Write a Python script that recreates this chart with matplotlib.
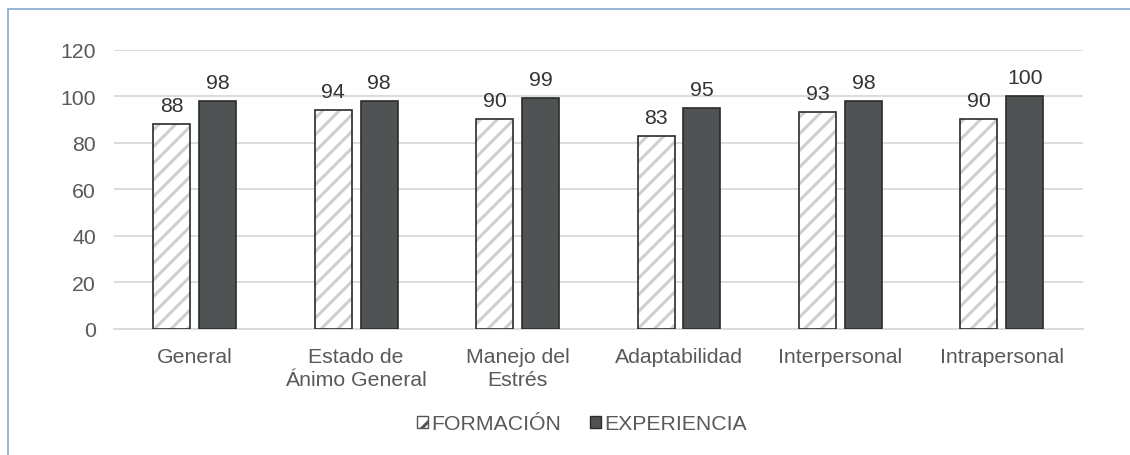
import matplotlib
matplotlib.use("Agg")
import matplotlib.pyplot as plt
from matplotlib.patches import Patch, Rectangle
import numpy as np

# scores per dimension
categorias = ["General", "Estado de\nÁnimo General", "Manejo del\nEstrés",
              "Adaptabilidad", "Interpersonal", "Intrapersonal"]
formacion = [88, 94, 90, 83, 93, 90]
experiencia = [98, 98, 99, 95, 98, 100]
y_ticks = [0, 20, 40, 60, 80, 100, 120]

TXT = "#595959"
DARK = "#4f5354"
EDGE = "#2b2b2b"
HATCH = "#cfcfcf"
FS = 15.3

plt.rcParams["font.family"] = ["Liberation Sans", "DejaVu Sans"]
plt.rcParams["hatch.linewidth"] = 2.2

fig = plt.figure(figsize=(11.3, 4.56), dpi=100)
ax = fig.add_axes([0.1009, 0.2774, 0.8571, 0.6118])

x = np.arange(len(categorias))
w = 0.229
off = 0.142

# hatched bars first, outline drawn on top in a darker tone
ax.bar(x - off, formacion, w, color="white", edgecolor=HATCH, hatch="//",
       linewidth=0, zorder=3)
ax.bar(x - off, formacion, w, fill=False, edgecolor=EDGE, linewidth=1.2, zorder=4)
ax.bar(x + off, experiencia, w, color=DARK, edgecolor=EDGE, linewidth=1.2, zorder=4)

for xi, v in zip(x - off, formacion):
    ax.annotate(str(v), (xi, v), xytext=(0, 6.5), textcoords="offset points",
                ha="center", va="bottom", fontsize=FS, color="#333333")
for xi, v in zip(x + off, experiencia):
    ax.annotate(str(v), (xi, v), xytext=(0, 6.5), textcoords="offset points",
                ha="center", va="bottom", fontsize=FS, color="#333333")

ax.set_xlim(-0.5, len(categorias) - 0.5)
ax.set_ylim(0, 120)
ax.set_yticks(y_ticks)
ax.set_xticks(x)
ax.set_xticklabels(categorias, linespacing=1.3)
ax.tick_params(axis="both", length=0, labelsize=FS, labelcolor=TXT)
ax.tick_params(axis="y", pad=13)
ax.tick_params(axis="x", pad=13)
ax.grid(axis="y", color="#d9d9d9", linewidth=1.3, zorder=0)
ax.set_axisbelow(True)
for s in ["top", "right", "left"]:
    ax.spines[s].set_visible(False)
ax.spines["bottom"].set_color("#d9d9d9")
ax.spines["bottom"].set_linewidth(1.3)

handles = [Patch(facecolor="white", edgecolor="#555555", hatch="//", linewidth=1),
           Patch(facecolor=DARK, edgecolor=EDGE, linewidth=1)]
fig.legend(handles, ["FORMACIÓN", "EXPERIENCIA"], loc="center",
           bbox_to_anchor=(0.515, 0.068), ncol=2, frameon=False,
           fontsize=FS, labelcolor=TXT, handlelength=0.5, handleheight=0.5,
           handletextpad=0.15, columnspacing=1.4)

# outer frame
fig.patches.append(Rectangle((8 / 1130, -0.2), 1.2, 1.2 - 10 / 456,
                             transform=fig.transFigure, fill=False,
                             edgecolor="#8fb0d4", linewidth=1.3))

fig.savefig("out.png", dpi=100)
